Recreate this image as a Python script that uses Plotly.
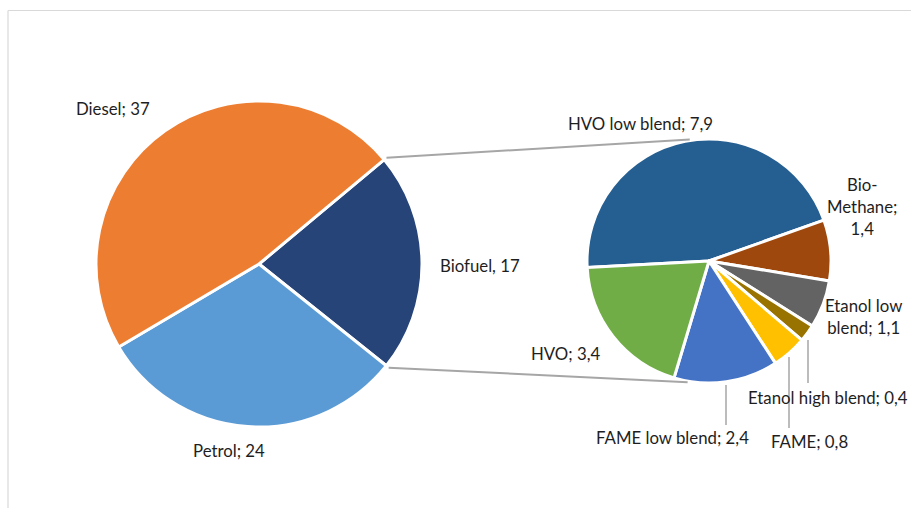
import math
import plotly.graph_objects as go

# ---------------- data ----------------
main_labels = ["Biofuel", "Petrol", "Diesel"]
main_values = [17, 24, 37]
main_text = ["Biofuel, 17", "Petrol; 24", "Diesel; 37"]
main_colors = ["#264478", "#5B9BD5", "#ED7D31"]

sub_labels = ["HVO low blend", "Bio-Methane", "Etanol low blend", "Etanol high blend",
              "FAME", "FAME low blend", "HVO"]
sub_values = [7.9, 1.4, 1.1, 0.4, 0.8, 2.4, 3.4]
sub_text = ["HVO low blend; 7,9", "Bio-<br>Methane;<br>1,4", "Etanol low<br>blend; 1,1",
            "Etanol high blend; 0,4", "FAME; 0,8", "FAME low blend; 2,4", "HVO; 3,4"]
sub_colors = ["#255E91", "#9E480E", "#636363", "#997300", "#FFC000", "#4472C4", "#70AD47"]

# ---------------- layout geometry (pixels) ----------------
W, H = 911, 508
C1 = (259, 264); R1 = 163          # main pie
C2 = (709, 261); R2 = 122          # secondary pie

def px(x):
    return x / W

def py(y):
    return 1 - y / H

def dom(c, r):
    return dict(x=[px(c[0] - r), px(c[0] + r)], y=[py(c[1] + r), py(c[1] - r)])

tot1 = sum(main_values)
bio_span = main_values[0] / tot1 * 360
rot1 = 90 - bio_span / 2 - 0.6     # biofuel slice centred on the right side
rot2 = 267

fig = go.Figure()
fig.add_trace(go.Pie(
    labels=main_labels, values=main_values, sort=False, direction="clockwise",
    rotation=rot1, domain=dom(C1, R1), textinfo="none", showlegend=False,
    marker=dict(colors=main_colors, line=dict(color="white", width=3)),
))
fig.add_trace(go.Pie(
    labels=sub_labels, values=sub_values, sort=False, direction="clockwise",
    rotation=rot2, domain=dom(C2, R2), textinfo="none", showlegend=False,
    marker=dict(colors=sub_colors, line=dict(color="white", width=3)),
))

def pt(c, r, ang_cw_from_top):
    a = math.radians(ang_cw_from_top)
    return (c[0] + r * math.sin(a), c[1] - r * math.cos(a))

shapes = []
grey = "#A6A6A6"
# connector lines between the biofuel slice and the secondary pie
p_up = pt(C1, R1 + 3, rot1)
p_dn = pt(C1, R1 + 3, rot1 + bio_span)
q_up = pt(C2, R2 + 1, -9)
q_dn = pt(C2, R2 + 1, 190)
for a, b in [(p_up, q_up), (p_dn, q_dn)]:
    shapes.append(dict(type="line", xref="paper", yref="paper",
                       x0=px(a[0]), y0=py(a[1]), x1=px(b[0]), y1=py(b[1]),
                       line=dict(color=grey, width=2)))

# leader lines for small slices
leaders = [(726, 385, 726, 425), (789, 357, 789, 428), (808, 340, 808, 383)]
for x0, y0, x1, y1 in leaders:
    shapes.append(dict(type="line", xref="paper", yref="paper",
                       x0=px(x0), y0=py(y0), x1=px(x1), y1=py(y1),
                       line=dict(color=grey, width=1.5)))

# chart frame (partial, as in reference)
shapes.append(dict(type="line", xref="paper", yref="paper", x0=px(8), y0=py(10.5),
                   x1=px(W), y1=py(10.5), line=dict(color="#D9D9D9", width=1.2)))
shapes.append(dict(type="line", xref="paper", yref="paper", x0=px(8), y0=py(10.5),
                   x1=px(8), y1=py(H), line=dict(color="#D9D9D9", width=1.2)))

# label positions (pixel centres)
main_pos = [(480, 265), (229, 450), (113, 108)]
sub_pos = [(640, 123), (862, 207), (863, 316), (828, 397), (809, 441), (672, 437), (565, 353)]

annotations = []
for t, (x, y) in zip(main_text + sub_text, main_pos + sub_pos):
    annotations.append(dict(text=t, x=px(x), y=py(y), xref="paper", yref="paper",
                            xanchor="center", yanchor="middle", showarrow=False,
                            font=dict(family="Lato", size=16.8, color="#1E1E1E")))

fig.update_layout(
    width=W, height=H, margin=dict(l=0, r=0, t=0, b=0),
    paper_bgcolor="white", plot_bgcolor="white",
    shapes=shapes, annotations=annotations,
)
fig.write_html("out.html", config={"displayModeBar": False},
               post_script="document.body.style.margin='0';document.body.style.overflow='hidden';")
